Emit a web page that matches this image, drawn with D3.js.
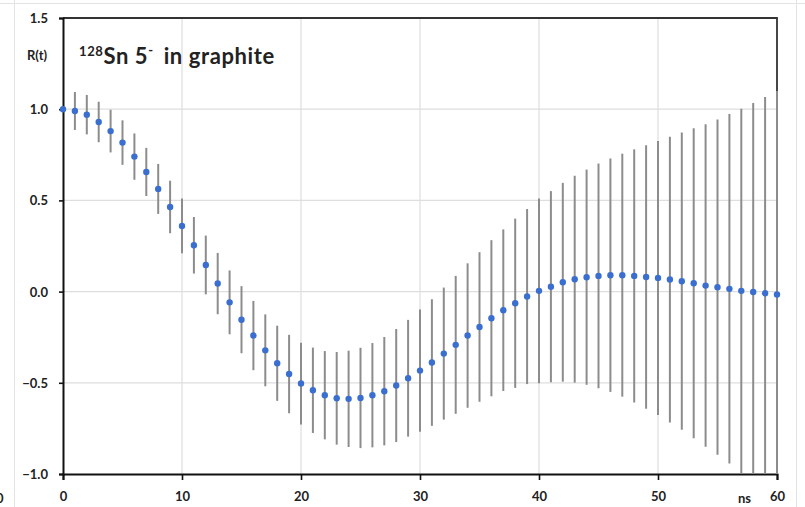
<!DOCTYPE html>
<html>
<head>
<meta charset="utf-8">
<script src="https://cdn.jsdelivr.net/npm/d3@7"></script>
<style>
  body { margin: 0; background: #fff; }
  svg { display: block; }
  text { font-family: Lato, "Open Sans", sans-serif; font-weight: bold; fill: #222; }
</style>
</head>
<body>
<svg></svg>
<script>
// data: time in ns, R(t) and half-width of the error bar
let times = d3.range(0, 61);
let values = [
  1.0, 0.99, 0.97, 0.93, 0.88, 0.817, 0.74, 0.656, 0.563, 0.464,
  0.36, 0.254, 0.146, 0.044, -0.059, -0.154, -0.241, -0.322, -0.393, -0.452,
  -0.504, -0.541, -0.568, -0.585, -0.588, -0.583, -0.568, -0.546, -0.515, -0.475,
  -0.433, -0.389, -0.34, -0.292, -0.241, -0.194, -0.146, -0.102, -0.064, -0.027,
  0.004, 0.027, 0.051, 0.068, 0.079, 0.086, 0.09, 0.09, 0.086, 0.08,
  0.075, 0.066, 0.057, 0.046, 0.033, 0.024, 0.015, 0.004, -0.002, -0.009,
  -0.016
];
let errors = [
  0, 0.104, 0.108, 0.111, 0.117, 0.122, 0.127, 0.132, 0.137, 0.144,
  0.15, 0.155, 0.161, 0.168, 0.175, 0.184, 0.19, 0.197, 0.206, 0.215,
  0.224, 0.234, 0.242, 0.254, 0.264, 0.275, 0.286, 0.297, 0.31, 0.32,
  0.335, 0.347, 0.362, 0.378, 0.396, 0.41, 0.428, 0.443, 0.464, 0.48,
  0.506, 0.524, 0.545, 0.567, 0.59, 0.616, 0.64, 0.666, 0.694, 0.722,
  0.751, 0.783, 0.815, 0.85, 0.884, 0.919, 0.958, 0.998, 1.036, 1.076,
  1.116
];
let xTicks = [0, 10, 20, 30, 40, 50, 60];
let yTicks = [-1.0, -0.5, 0.0, 0.5, 1.0, 1.5];

// configuration of svg/plot area
let config = { 'svg': {}, 'plot': {} };
config.svg.width = 805;
config.svg.height = 507;
config.plot.left = 63;
config.plot.right = 777;
config.plot.top = 18;
config.plot.bottom = 474;

let svg = d3.select('svg')
  .attr('width', config.svg.width)
  .attr('height', config.svg.height);

// faint sheet cell lines behind the chart
let sheet = svg.append('g').attr('stroke', '#e3e3e3').attr('stroke-width', 1);
sheet.append('line').attr('x1', 0).attr('x2', 805).attr('y1', 3.5).attr('y2', 3.5);
sheet.append('line').attr('x1', 14.5).attr('x2', 14.5).attr('y1', 0).attr('y2', 507);
sheet.append('line').attr('x1', 796.5).attr('x2', 796.5).attr('y1', 0).attr('y2', 507);
// label of a neighbouring cell, only its right edge shows
svg.append('text').attr('x', -4).attr('y', 503).attr('font-size', 13).text('0');

let x = d3.scaleLinear().domain([0, 60]).range([config.plot.left, config.plot.right]);
let y = d3.scaleLinear().domain([-1, 1.5]).range([config.plot.bottom, config.plot.top]);

let plot = svg.append('g').attr('id', 'plot');

// gridlines
plot.append('g').selectAll('line')
  .data(xTicks.slice(1, -1))
  .join('line')
  .attr('x1', d => x(d)).attr('x2', d => x(d))
  .attr('y1', config.plot.top).attr('y2', config.plot.bottom)
  .attr('stroke', '#dedede').attr('stroke-width', 1.2);
plot.append('g').selectAll('line')
  .data(yTicks.slice(1, -1))
  .join('line')
  .attr('x1', config.plot.left).attr('x2', config.plot.right)
  .attr('y1', d => y(d)).attr('y2', d => y(d))
  .attr('stroke', '#dedede').attr('stroke-width', 1.2);

// frame (top and right)
plot.append('path')
  .attr('d', `M${config.plot.left},${config.plot.top}H${config.plot.right}V${config.plot.bottom}`)
  .attr('fill', 'none').attr('stroke', '#333').attr('stroke-width', 1.8);

// axes
let xAxis = d3.axisBottom(x).tickValues(xTicks).tickSize(6).tickFormat(d3.format('d'));
let yAxis = d3.axisLeft(y).tickValues(yTicks).tickSize(4).tickFormat(d3.format('.1f'));

let gx = plot.append('g')
  .attr('transform', `translate(0,${config.plot.bottom})`)
  .call(xAxis);
let gy = plot.append('g')
  .attr('transform', `translate(${config.plot.left},0)`)
  .call(yAxis);

[gx, gy].forEach(g => {
  g.select('.domain').attr('stroke', '#111').attr('stroke-width', 2);
  g.selectAll('.tick line').attr('stroke', '#111').attr('stroke-width', 1.6);
  g.selectAll('.tick text')
    .attr('font-family', 'Lato, sans-serif')
    .attr('font-weight', 'bold')
    .attr('font-size', 13)
    .attr('fill', '#222');
});
gx.selectAll('.tick text').attr('dy', '1.35em');
gy.selectAll('.tick text').attr('x', -15).attr('dy', '0.35em');

// error bars
plot.append('g').selectAll('line')
  .data(times.filter(t => errors[t] > 0))
  .join('line')
  .attr('x1', t => x(t)).attr('x2', t => x(t))
  .attr('y1', t => y(Math.min(1.5, values[t] + errors[t])))
  .attr('y2', t => y(Math.max(-1, values[t] - errors[t])))
  .attr('stroke', '#8c8c8c').attr('stroke-width', 2);

// points
plot.append('g').selectAll('circle')
  .data(times)
  .join('circle')
  .attr('cx', t => x(t))
  .attr('cy', t => y(values[t]))
  .attr('r', 3.2)
  .attr('fill', '#3a6fd0');

// labels
svg.append('text').attr('x', 27).attr('y', 60).attr('font-size', 13).text('R(t)');
svg.append('text').attr('x', 738).attr('y', 503).attr('font-size', 13).text('ns');

let title = svg.append('text').attr('x', 79).attr('y', 64).attr('font-size', 22)
  .attr('letter-spacing', 0.6);
title.append('tspan').attr('font-size', 13).attr('dy', -8).text('128');
title.append('tspan').attr('dy', 8).text('Sn 5');
title.append('tspan').attr('font-size', 13).attr('dy', -9).text('-');
title.append('tspan').attr('dy', 9).attr('dx', 10).text('in graphite');
</script>
</body>
</html>
